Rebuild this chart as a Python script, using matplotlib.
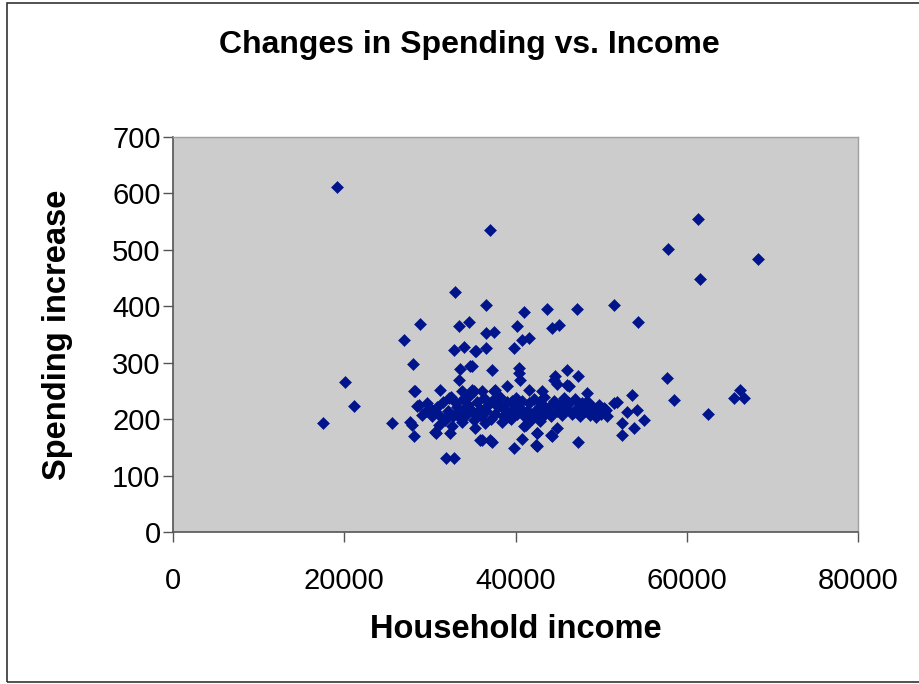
import matplotlib
matplotlib.use("Agg")
import matplotlib.pyplot as plt
from matplotlib.patches import Rectangle

plt.rcParams["font.family"] = ["Liberation Sans", "DejaVu Sans"]

# Household income (x) and spending increase (y) for each household
income = [
    19100, 37000, 17460, 20030, 21170, 25610, 61320, 57800, 68340, 61560,
    51500, 54350, 57750, 58520, 62490, 66230, 65530, 66700, 53650, 51800,
    50330, 54230, 55000, 53830, 52480, 52480, 32900, 28890, 33370, 34540,
    27020, 32780, 33960, 35320, 27990, 33570, 34740, 33370, 31230, 28190,
    28500, 29670, 27920, 28110, 30760, 32400, 31890, 32780, 35900, 36600,
    41050, 43630, 47130, 36600, 37540, 40120, 44280, 45060, 40780, 41560,
    35440, 36600, 39880, 34940, 37280, 40390, 40390, 40580, 45960, 47300,
    44560, 44800, 46230, 47300, 42460, 40970, 40780, 39800, 42460, 44280,
    36100, 37280, 37460, 39030, 35120, 28220, 28690, 27720, 30640, 29090,
    30260, 31610, 32200, 33770, 34940, 33180, 34540, 33770, 35320, 32600,
    31020, 37660, 36100, 44460, 41560, 43120, 36490, 38440, 41170, 37070,
    42530, 42340, 44090, 39220, 43310, 46040, 48380, 51500, 53060, 49360,
    50530, 44860,
    29500, 30200, 30800, 31000, 31500, 31800, 32100, 32500, 32700, 33000,
    33300, 33600, 33900, 34200, 34400, 34700, 35000, 35200, 35500, 35800,
    36000, 36300, 36600, 36800, 37100, 37300, 37600, 37900, 38200, 38500,
    38700, 39000, 39300, 39500, 39800, 40000, 40200, 40500, 40800, 41000,
    41300, 41600, 41900, 42200, 42500, 42800, 43000, 43300, 43600, 43900,
    44200, 44500, 44800, 45100, 45400, 45700, 46000, 46300, 46600, 46900,
    47200, 47500, 47800, 48100, 48400, 48700, 49000, 49300, 49700, 50000,
    50300, 50700, 34000, 35700, 37800, 38900, 40300, 41800, 43500, 45300,
    46800, 48900, 39600, 42900,
]
spending = [
    612, 535, 194, 265, 223, 194, 555, 502, 484, 449,
    403, 372, 273, 234, 209, 252, 237, 237, 243, 230,
    213, 216, 198, 184, 193, 172, 425, 369, 365, 372,
    340, 323, 328, 320, 298, 288, 294, 269, 252, 249,
    223, 229, 190, 170, 176, 176, 132, 132, 163, 403,
    389, 396, 396, 352, 355, 365, 361, 367, 340, 344,
    320, 326, 326, 294, 287, 290, 281, 269, 287, 276,
    276, 263, 259, 159, 175, 188, 164, 149, 153, 170,
    163, 160, 249, 259, 249, 250, 225, 195, 178, 207,
    216, 201, 237, 249, 252, 222, 219, 195, 184, 187,
    190, 252, 249, 269, 252, 249, 193, 195, 190, 163,
    175, 154, 172, 204, 207, 260, 246, 228, 213, 204,
    216, 184,
    215, 205, 222, 210, 230, 198, 215, 240, 205, 228,
    212, 200, 235, 208, 225, 243, 212, 198, 230, 218,
    205, 238, 215, 225, 200, 232, 210, 222, 240, 205,
    218, 230, 212, 200, 225, 238, 210, 220, 232, 205,
    215, 228, 200, 235, 218, 208, 228, 240, 214, 222,
    205, 232, 215, 225, 208, 238, 218, 228, 210, 235,
    220, 205, 228, 215, 232, 208, 222, 212, 225, 210,
    220, 205, 218, 210, 226, 214, 221, 209, 217, 224,
    212, 219, 233, 196,
]

x_ticks = [0, 20000, 40000, 60000, 80000]
y_ticks = [0, 100, 200, 300, 400, 500, 600, 700]

fig = plt.figure(figsize=(9.19, 6.84), dpi=100)
fig.patch.set_facecolor("white")

# chart-area border
fig.add_artist(Rectangle((7 / 919, 2 / 684), 1.2, 679 / 684,
                         transform=fig.transFigure, fill=False,
                         edgecolor="#333333", linewidth=1.2))

ax = fig.add_axes([173 / 919, 1 - 532 / 684, 685 / 919, 395 / 684])
ax.set_facecolor("#CCCCCC")

ax.plot(income, spending, linestyle="none", marker="D", markersize=6.4,
        markerfacecolor="#00148C", markeredgecolor="#00148C",
        markeredgewidth=0.4)

ax.set_xlim(0, 80000)
ax.set_ylim(0, 700)
ax.set_xticks(x_ticks)
ax.set_yticks(y_ticks)
ax.set_xticklabels([str(v) for v in x_ticks])
ax.set_yticklabels([str(v) for v in y_ticks])

for side in ("left", "bottom"):
    ax.spines[side].set_color("#555555")
    ax.spines[side].set_linewidth(1.2)
for side in ("top", "right"):
    ax.spines[side].set_color("#A0A0A0")
    ax.spines[side].set_linewidth(1.0)

ax.tick_params(axis="x", direction="out", length=7, width=1, color="#555555",
               pad=18, labelsize=21)
ax.tick_params(axis="y", direction="out", length=7, width=1, color="#555555",
               pad=2, labelsize=21)

ax.set_xlabel("Household income", fontsize=23.5, fontweight="bold")
ax.set_ylabel("Spending increase", fontsize=23.5, fontweight="bold")
ax.xaxis.set_label_coords(0.5007, -0.248)
ax.yaxis.set_label_coords(-0.169, 0.499)
ax.xaxis.label.set_va("center")
ax.yaxis.label.set_va("center")

fig.text(469 / 919, 1 - 45 / 684, "Changes in Spending vs. Income",
         ha="center", va="center", fontsize=23, fontweight="bold")

fig.savefig("out.png", dpi=100)
